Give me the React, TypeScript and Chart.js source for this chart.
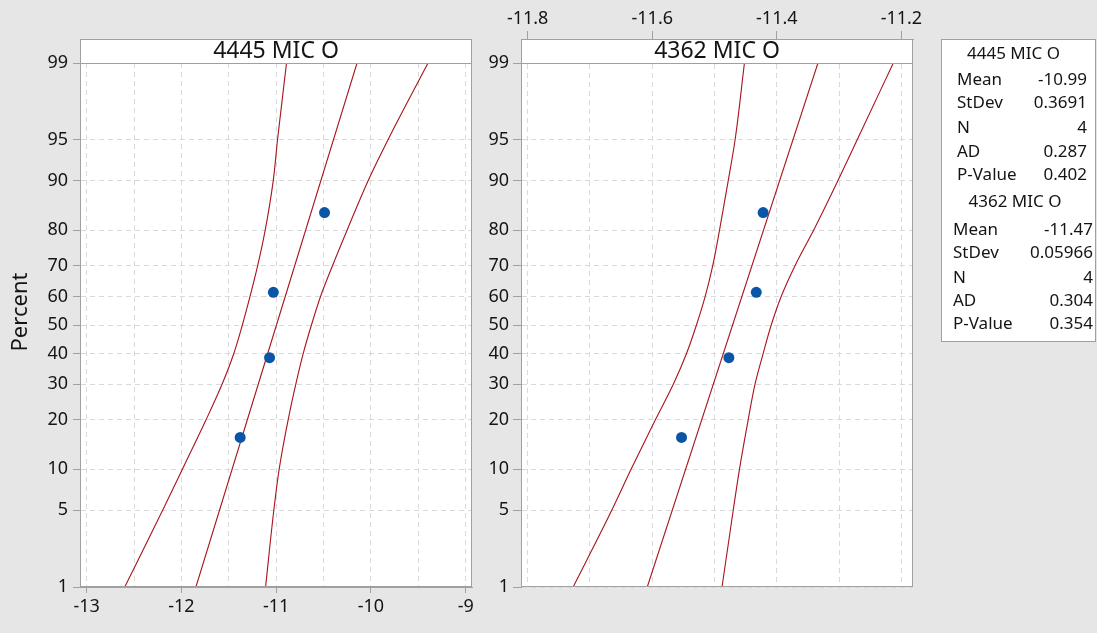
import React, { useEffect, useRef } from 'react';
import { Chart, registerables, LinearScale } from 'chart.js';

// ---------------- data ----------------
const PCT_TICKS = [1, 5, 10, 20, 30, 40, 50, 60, 70, 80, 90, 95, 99];
const POINT_PCT = [15.9, 38.6, 61.4, 84.1];

const A_TITLE = '4445 MIC O';
const A_VALUES = [-11.38, -11.07, -11.03, -10.49];
const A_FIT_PCT = [1, 99];
const A_FIT = [-11.847, -10.147];
const BAND_PCT = [1, 5, 10, 20, 30, 40, 50, 60, 70, 80, 90, 95, 99];
const A_LOWER = [-12.598, -12.198, -11.99, -11.74, -11.57, -11.447, -11.357, -11.276, -11.196, -11.116, -11.031, -10.986, -10.891];
const A_UPPER = [-11.112, -11.025, -10.969, -10.874, -10.793, -10.715, -10.628, -10.532, -10.407, -10.252, -10.03, -9.82, -9.398];
const A_GRID = [-13, -12.5, -12, -11.5, -11, -10.5, -10, -9.5, -9];
const A_TICK_LABELS = [-13, -12, -11, -10, -9];

const B_TITLE = '4362 MIC O';
const B_VALUES = [-11.553, -11.477, -11.433, -11.422];
const B_FIT_PCT = [1, 99];
const B_FIT = [-11.608, -11.334];
const B_LOWER = [-11.727, -11.665, -11.634, -11.595, -11.566, -11.545, -11.529, -11.515, -11.503, -11.492, -11.478, -11.467, -11.452];
const B_UPPER = [-11.488, -11.47, -11.46, -11.446, -11.435, -11.422, -11.409, -11.393, -11.371, -11.341, -11.302, -11.271, -11.213];
const B_GRID = [-11.8, -11.7, -11.6, -11.5, -11.4, -11.3, -11.2];
const B_TICK_LABELS = ['-11.8', '-11.6', '-11.4', '-11.2'];

const STATS_LABELS = ['Mean', 'StDev', 'N', 'AD', 'P-Value'];
const A_STATS = ['-10.99', '0.3691', '4', '0.287', '0.402'];
const B_STATS = ['-11.47', '0.05966', '4', '0.304', '0.354'];

// ---------------- helpers ----------------
function probit(p: number): number {
  p = Math.min(Math.max(p, 1e-9), 1 - 1e-9);
  const a = [-3.969683028665376e1, 2.209460984245205e2, -2.759285104469687e2, 1.38357751867269e2, -3.066479806614716e1, 2.506628277459239];
  const b = [-5.447609879822406e1, 1.615858368580409e2, -1.556989798598866e2, 6.680131188771972e1, -1.328068155288572e1];
  const c = [-7.784894002430293e-3, -3.223964580411365e-1, -2.400758277161838, -2.549732539343734, 4.374664141464968, 2.938163982698783];
  const d = [7.784695709041462e-3, 3.224671290700398e-1, 2.445134137142996, 3.754408661907416];
  const pl = 0.02425;
  if (p < pl) {
    const q = Math.sqrt(-2 * Math.log(p));
    return (((((c[0] * q + c[1]) * q + c[2]) * q + c[3]) * q + c[4]) * q + c[5]) / ((((d[0] * q + d[1]) * q + d[2]) * q + d[3]) * q + 1);
  }
  if (p <= 1 - pl) {
    const q = p - 0.5;
    const r = q * q;
    return ((((((a[0] * r + a[1]) * r + a[2]) * r + a[3]) * r + a[4]) * r + a[5]) * q) / (((((b[0] * r + b[1]) * r + b[2]) * r + b[3]) * r + b[4]) * r + 1);
  }
  const q = Math.sqrt(-2 * Math.log(1 - p));
  return -(((((c[0] * q + c[1]) * q + c[2]) * q + c[3]) * q + c[4]) * q + c[5]) / ((((d[0] * q + d[1]) * q + d[2]) * q + d[3]) * q + 1);
}

function normCdf(z: number): number {
  const t = 1 / (1 + 0.2316419 * Math.abs(z));
  const dd = 0.3989423 * Math.exp((-z * z) / 2);
  const p = dd * t * (0.3193815 + t * (-0.3565638 + t * (1.781478 + t * (-1.821256 + t * 1.330274))));
  return z > 0 ? 1 - p : p;
}

class ProbitScale extends LinearScale {
  static id = 'probit';
  static defaults = {};
  _zMin = 0;
  _zMax = 1;
  determineDataLimits() {
    // @ts-ignore
    this.min = this.options.min;
    // @ts-ignore
    this.max = this.options.max;
  }
  buildTicks() {
    return PCT_TICKS.map((v) => ({ value: v }));
  }
  configure() {
    super.configure();
    this._zMin = probit(this.min / 100);
    this._zMax = probit(this.max / 100);
  }
  getPixelForValue(v: number) {
    return this.getPixelForDecimal((probit(v / 100) - this._zMin) / (this._zMax - this._zMin));
  }
  getValueForPixel(px: number) {
    const dd = this.getDecimalForPixel(px);
    return 100 * normCdf(this._zMin + dd * (this._zMax - this._zMin));
  }
}

Chart.register(...registerables, ProbitScale);

const FONT = '"Noto Sans", "Open Sans", sans-serif';
const TEXT = '#141414';
const AXIS = '#a0a0a0';
const GRID = '#d9d9d9';
const RED = '#a8141c';
const BLUE = '#0a55a5';

const framePlugin = {
  id: 'frame',
  beforeDraw(chart: any) {
    const { ctx, chartArea: a } = chart;
    ctx.save();
    ctx.fillStyle = '#ffffff';
    ctx.fillRect(a.left, a.top - 24, a.right - a.left, a.bottom - a.top + 24);
    ctx.restore();
  },
  afterDraw(chart: any, _args: any, opts: any) {
    const { ctx, chartArea: a } = chart;
    ctx.save();
    ctx.strokeStyle = AXIS;
    ctx.lineWidth = 1;
    ctx.strokeRect(Math.round(a.left) + 0.5, Math.round(a.top - 24) + 0.5, Math.round(a.right - a.left) - 1, Math.round(a.bottom - a.top + 24) - 1);
    ctx.beginPath();
    ctx.moveTo(a.left, Math.round(a.top) + 0.5);
    ctx.lineTo(a.right, Math.round(a.top) + 0.5);
    ctx.stroke();
    if (opts && opts.yTitle) {
      ctx.translate(21, 312);
      ctx.rotate(-Math.PI / 2);
      ctx.fillStyle = TEXT;
      ctx.font = `22px ${FONT}`;
      ctx.textAlign = 'center';
      ctx.textBaseline = 'middle';
      ctx.fillText(opts.yTitle, 0, 0);
    }
    ctx.restore();
  },
};

function xy(xs: number[], ps: number[]) {
  return xs.map((x, i) => ({ x, y: ps[i] }));
}

function makeConfig(o: {
  title: string;
  values: number[];
  fit: number[];
  fitPct: number[];
  lower: number[];
  upper: number[];
  grid: number[];
  isLabeled: (v: number) => boolean;
  label: (v: number) => string;
  min: number;
  max: number;
  xPos: 'top' | 'bottom';
  xHeight: number;
  yWidth: number;
  yTick: number;
  yPad: number;
  xTick: number;
  xPad: number;
  padding: any;
  yTitle?: string;
}): any {
  const lineDs = (data: any[]) => ({
    type: 'line',
    data,
    indexAxis: 'y',
    xAxisID: 'x',
    yAxisID: 'y',
    showLine: true,
    borderColor: RED,
    borderWidth: 1.1,
    pointRadius: 0,
    cubicInterpolationMode: 'monotone',
    fill: false,
  });
  return {
    type: 'scatter',
    data: {
      datasets: [
        {
          data: xy(o.values, POINT_PCT),
          showLine: false,
          pointRadius: 5.5,
          pointBackgroundColor: BLUE,
          pointBorderColor: BLUE,
          pointBorderWidth: 0,
        },
        lineDs(xy(o.fit, o.fitPct)),
        lineDs(xy(o.lower, BAND_PCT)),
        lineDs(xy(o.upper, BAND_PCT)),
      ],
    },
    plugins: [framePlugin],
    options: {
      animation: false,
      responsive: false,
      events: [],
      layout: { padding: o.padding },
      plugins: {
        legend: { display: false },
        tooltip: { enabled: false },
        title: {
          display: true,
          text: o.title,
          fullSize: false,
          padding: 0,
          color: TEXT,
          font: { family: FONT, size: 23, weight: 'normal', lineHeight: 24 / 23 },
        },
        frame: { yTitle: o.yTitle },
      },
      scales: {
        x: {
          type: 'linear',
          position: o.xPos,
          weight: 3000,
          bounds: 'data',
          min: o.min,
          max: o.max,
          afterBuildTicks: (s: any) => {
            s.ticks = o.grid.map((v) => ({ value: v }));
          },
          afterFit: (s: any) => {
            s.height = o.xHeight;
          },
          ticks: {
            autoSkip: false,
            maxRotation: 0,
            padding: o.xPad,
            color: TEXT,
            font: { family: FONT, size: 18 },
            callback: (v: number) => o.label(v),
          },
          grid: {
            color: GRID,
            lineWidth: 1,
            tickLength: o.xTick,
            tickWidth: 1,
            tickColor: (ctx: any) => (ctx.tick && o.isLabeled(ctx.tick.value) ? AXIS : 'rgba(0,0,0,0)'),
          },
          border: { color: AXIS, width: 1, dash: [5, 4] },
        },
        y: {
          type: 'probit',
          position: 'left',
          min: 1,
          max: 99,
          afterFit: (s: any) => {
            s.width = o.yWidth;
          },
          ticks: {
            autoSkip: false,
            padding: o.yPad,
            color: TEXT,
            font: { family: FONT, size: 18 },
            callback: (v: number) => String(v),
          },
          grid: {
            color: GRID,
            lineWidth: 1,
            tickLength: o.yTick,
            tickWidth: 1,
            tickColor: AXIS,
          },
          border: { color: AXIS, width: 1, dash: [5, 4] },
        },
      },
    },
  };
}

const near = (a: number, b: number) => Math.abs(a - b) < 1e-6;

export default function App() {
  const leftRef = useRef<HTMLCanvasElement>(null);
  const rightRef = useRef<HTMLCanvasElement>(null);

  useEffect(() => {
    const c1 = new Chart(
      leftRef.current as HTMLCanvasElement,
      makeConfig({
        title: A_TITLE,
        values: A_VALUES,
        fit: A_FIT,
        fitPct: A_FIT_PCT,
        lower: A_LOWER,
        upper: A_UPPER,
        grid: A_GRID,
        isLabeled: (v) => A_TICK_LABELS.some((t) => near(t, v)),
        label: (v) => {
          const t = A_TICK_LABELS.find((tt) => near(tt, v));
          return t === undefined ? '' : String(t);
        },
        min: -13.07,
        max: -8.934,
        xPos: 'bottom',
        xHeight: 46,
        yWidth: 80,
        yTick: 7,
        yPad: 5,
        xTick: 6,
        xPad: 3,
        padding: { top: 39, right: 8, bottom: 0, left: 0 },
        yTitle: 'Percent',
      })
    );
    const c2 = new Chart(
      rightRef.current as HTMLCanvasElement,
      makeConfig({
        title: B_TITLE,
        values: B_VALUES,
        fit: B_FIT,
        fitPct: B_FIT_PCT,
        lower: B_LOWER,
        upper: B_UPPER,
        grid: B_GRID,
        isLabeled: (v) => B_TICK_LABELS.some((t) => near(parseFloat(t), v)),
        label: (v) => {
          const t = B_TICK_LABELS.find((tt) => near(parseFloat(tt), v));
          return t === undefined ? '' : t;
        },
        min: -11.8107,
        max: -11.1814,
        xPos: 'top',
        xHeight: 39,
        yWidth: 41,
        yTick: 8,
        yPad: 4,
        xTick: 8,
        xPad: 1,
        padding: { top: 0, right: 27, bottom: 46, left: 0 },
      })
    );
    return () => {
      c1.destroy();
      c2.destroy();
    };
  }, []);

  const row = (top: number, left: number, right: number, label: string, value: string) => (
    <React.Fragment key={label + top}>
      <div style={{ position: 'absolute', top: top - 12, left, height: 24, lineHeight: '24px', whiteSpace: 'nowrap' }}>{label}</div>
      <div style={{ position: 'absolute', top: top - 12, right: 1097 - right, height: 24, lineHeight: '24px', whiteSpace: 'nowrap', textAlign: 'right' }}>{value}</div>
    </React.Fragment>
  );
  const A_ROWS_Y = [79, 102, 127, 151, 174];
  const B_ROWS_Y = [229, 252, 277, 300, 323];

  return (
    <div
      style={{
        position: 'absolute',
        left: 0,
        top: 0,
        width: 1097,
        height: 633,
        background: '#e6e6e6',
        overflow: 'hidden',
        fontFamily: FONT,
        color: TEXT,
      }}
    >
      <canvas ref={leftRef} width={480} height={633} style={{ position: 'absolute', left: 0, top: 0 }} />
      <canvas ref={rightRef} width={460} height={633} style={{ position: 'absolute', left: 480, top: 0 }} />
      <div
        style={{
          position: 'absolute',
          left: 941,
          top: 39,
          width: 155,
          height: 303,
          boxSizing: 'border-box',
          background: '#ffffff',
          border: `1px solid ${AXIS}`,
        }}
      />
      <div style={{ position: 'absolute', left: 0, top: 0, width: 1097, height: 633, fontSize: 17 }}>
        <div style={{ position: 'absolute', top: 41, left: 941, width: 145, textAlign: 'center', height: 24, lineHeight: '24px' }}>{A_TITLE}</div>
        {STATS_LABELS.map((l, i) => row(A_ROWS_Y[i], 957, 1087, l, A_STATS[i]))}
        <div style={{ position: 'absolute', top: 189, left: 941, width: 148, textAlign: 'center', height: 24, lineHeight: '24px' }}>{B_TITLE}</div>
        {STATS_LABELS.map((l, i) => row(B_ROWS_Y[i], 953, 1093, l, B_STATS[i]))}
      </div>
    </div>
  );
}
